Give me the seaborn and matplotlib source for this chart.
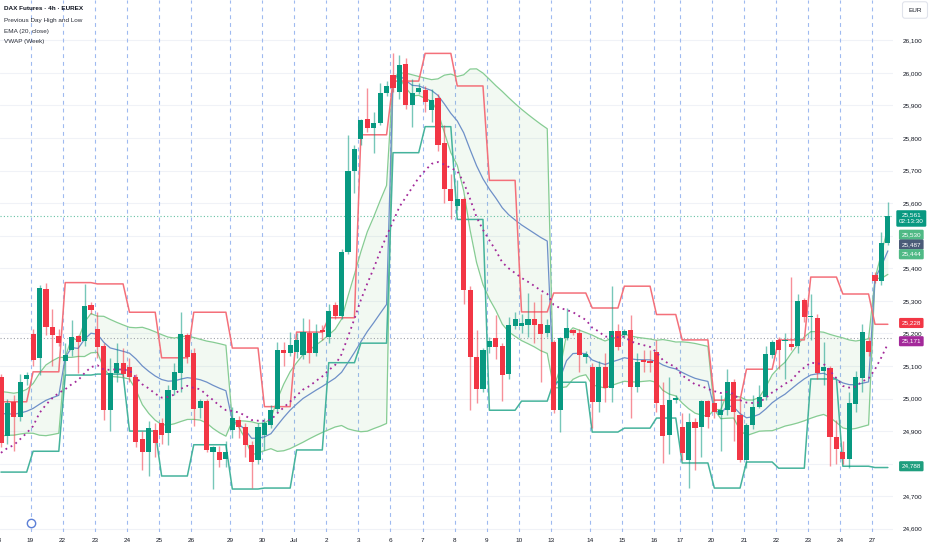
import numpy as np
import pandas as pd
import matplotlib
matplotlib.use("Agg")
import matplotlib.pyplot as plt
import matplotlib.transforms as mtransforms
import seaborn as sns

# ---- data: DAX futures, 4h bars ----
days = ["18", "19", "22", "23", "24", "25", "26", "29", "30", "Jul", "2", "3", "6", "7",
        "8", "9", "10", "13", "14", "15", "16", "17", "20", "21", "22", "23", "24", "27"]
bars_per_day = [5, 5, 5, 5, 5, 5, 6, 5, 5, 5, 5, 5, 5, 5, 5, 5, 5, 6, 5, 5, 4, 5, 5, 5, 5, 5, 5, 3]
week_of_day = [0, 0, 1, 1, 1, 1, 1, 2, 2, 2, 2, 2, 3, 3, 3, 3, 3, 4, 4, 4, 4, 4, 5, 5, 5, 5, 5, 6]

opens = [25066, 24885, 24990, 24943, 25061,
         25198, 25124, 25336, 25220, 25192,
         25116, 25149, 25192, 25177, 25287,
         25213, 25161, 24964, 25078, 25109,
         25097, 25066, 24875, 24835, 24903,
         24925, 24895, 25026, 25078, 25195,
         25140, 24970, 24992, 24835, 24835, 24814,
         24903, 24934, 24912, 24857, 24811,
         24888, 24918, 24968, 25149, 25140,
         25143, 25134, 25201, 25140, 25210,
         25190, 25287, 25254, 25450, 25700,
         25797, 25858, 25830, 25846, 25938,
         25994, 25942, 26027, 25902, 25940,
         25948, 25886, 25923, 25785, 25643,
         25590, 25613, 25333, 25127, 25029,
         25158, 25186, 25161, 25075, 25222,
         25223, 25226, 25244, 25229, 25201,
         25174, 24964, 25186, 25210, 25201, 25127,
         25097, 24989, 25097, 25033, 25207,
         25195, 25210, 25035, 25118, 25116,
         25143, 24980, 24888, 24995,
         24912, 24811, 24928, 24912, 24992,
         24986, 24950, 24964, 25050, 24950,
         24811, 24918, 24975, 25005, 25134,
         25180, 25176, 25168, 25161, 25302,
         25250, 25247, 25085, 25094, 24882,
         24835, 24814, 24983, 25063, 25177,
         25380, 25362, 25478]
highs = [25075, 25000, 25010, 25075, 25082,
         25215, 25350, 25356, 25275, 25215,
         25170, 25240, 25195, 25352, 25295,
         25265, 25170, 25125, 25170, 25155,
         25125, 25075, 24900, 24930, 24925,
         24940, 25040, 25110, 25265, 25200,
         25155, 25000, 25000, 24855, 24855, 24870,
         24975, 24945, 24925, 24870, 24925,
         24940, 24980, 25175, 25175, 25204,
         25200, 25248, 25245, 25230, 25225,
         25290, 25295, 25460, 25810, 25780,
         25860, 25955, 25880, 25970, 25975,
         26060, 26055, 26045, 25980, 25970,
         25960, 25950, 25935, 25840, 25690,
         25670, 25620, 25345, 25210, 25155,
         25190, 25255, 25170, 25250, 25266,
         25260, 25324, 25295, 25320, 25245,
         25180, 25190, 25278, 25215, 25215, 25145,
         25110, 25115, 25140, 25345, 25230,
         25215, 25258, 25140, 25150, 25150,
         25180, 25050, 25065, 25010,
         24955, 24955, 24940, 24995, 24995,
         25000, 25010, 25090, 25060, 25000,
         24925, 25010, 25040, 25160, 25180,
         25190, 25200, 25373, 25320, 25310,
         25321, 25260, 25175, 25100, 24935,
         24870, 25020, 25085, 25228, 25190,
         25390, 25510, 25605]
lows = [24850, 24860, 24838, 24930, 25040,
        25100, 25072, 25195, 25100, 25160,
        25075, 25130, 25078, 25160, 25260,
        25125, 24935, 24900, 25050, 25065,
        25050, 24850, 24780, 24762, 24820,
        24860, 24858, 25010, 25020, 25110,
        24915, 24940, 24835, 24722, 24790, 24790,
        24880, 24880, 24820, 24725, 24800,
        24842, 24910, 24960, 25100, 25130,
        25125, 25120, 25110, 25130, 25180,
        25170, 25245, 25245, 25445, 25630,
        25780, 25820, 25755, 25840, 25930,
        25940, 25920, 25890, 25835, 25935,
        25880, 25850, 25760, 25600, 25550,
        25580, 25290, 24964, 24986, 25020,
        25140, 25120, 24992, 25060, 25215,
        25200, 25189, 25170, 25050, 25190,
        24955, 24897, 25180, 25195, 25081, 25110,
        24909, 24960, 24990, 24990, 25150,
        25185, 24940, 25020, 25080, 25080,
        24960, 24802, 24830, 24985,
        24810, 24725, 24780, 24820, 24910,
        24940, 24840, 24950, 24870, 24805,
        24786, 24905, 24970, 24995, 25125,
        25090, 25060, 25150, 25140, 25235,
        25180, 25060, 25040, 24792, 24800,
        24800, 24788, 24960, 25020, 25130,
        25355, 25350, 25470]
closes = [24863, 24986, 24943, 25050, 25073,
          25118, 25339, 25220, 25195, 25170,
          25134, 25189, 25174, 25284, 25272,
          25158, 24964, 25078, 25109, 25075,
          25066, 24866, 24835, 24910, 24863,
          24888, 25026, 25081, 25198, 25127,
          24968, 24992, 24842, 24850, 24810, 24835,
          24940, 24912, 24857, 24805, 24912,
          24925, 24964, 25149, 25140, 25165,
          25180, 25204, 25140, 25201, 25204,
          25270, 25254, 25450, 25700, 25766,
          25855, 25830, 25846, 25938, 25960,
          25954, 26024, 25902, 25938, 25954,
          25911, 25917, 25778, 25643, 25607,
          25613, 25333, 25127, 25029, 25149,
          25177, 25158, 25072, 25226, 25244,
          25232, 25245, 25225, 25198, 25226,
          24964, 25186, 25216, 25201, 25134, 25137,
          24989, 25097, 25033, 25207, 25158,
          25207, 25035, 25112, 25112, 25110,
          24986, 24885, 24995, 25002,
          24832, 24928, 24910, 24992, 24943,
          24958, 24964, 25050, 24958, 24811,
          24918, 24974, 25005, 25137, 25174,
          25149, 25180, 25158, 25299, 25250,
          25253, 25078, 25097, 24882, 24845,
          24814, 24986, 25066, 25204, 25143,
          25362, 25478, 25561]

# state carried in from bars left of the visible window
prev_day_high0, prev_day_low0 = 24990, 24774
ema_seed = 24830
vwap_seed = (15, 24955, 70)  # bars, mean, stdev of the week so far

# right-axis badges: text, colour, layout price
badges = [("25,561\n02:13:30", "#089981", 25553),
          ("25,530", "#4fb985", 25503),
          ("25,487", "#4a5b78", 25473),
          ("25,444", "#4fb985", 25443),
          ("25,228", "#f23645", 25232),
          ("25,171", "#a3299a", 25176),
          ("24,788", "#1e9e7e", 24792)]
hidden_ticks = [24800, 25500]   # covered by badges in the original
last_price = 25561
prev_close_line = 25186

UP, DOWN = "#089981", "#f23645"
FS = 4.6

# ---- derived series ----
day_idx = np.repeat(np.arange(len(days)), bars_per_day)
df = pd.DataFrame({"open": opens, "high": highs, "low": lows, "close": closes})
df["x"] = np.arange(len(df))
df["day"] = day_idx
df["week"] = np.array(week_of_day)[day_idx]

daily = df.groupby("day").agg(hi=("high", "max"), lo=("low", "min"))
pdh = np.r_[prev_day_high0, daily["hi"].values[:-1]]
pdl = np.r_[prev_day_low0, daily["lo"].values[:-1]]
df["pdh"] = pdh[day_idx]
df["pdl"] = pdl[day_idx]

alpha = 2 / 21
ema, e = [], ema_seed
for c in closes:
    e = e + alpha * (c - e)
    ema.append(e)
df["ema"] = ema

# weekly VWAP with 1 stdev bands (equal weight per bar)
df["tp"] = (df["high"] + df["low"] + df["close"]) / 3
vw, sdv = [], []
for wk, g in df.groupby("week"):
    w0, m0, s0 = vwap_seed if wk == 0 else (0, 0.0, 0.0)
    cw = w0 + np.arange(1, len(g) + 1)
    c1 = w0 * m0 + g["tp"].cumsum().values
    c2 = w0 * (m0 ** 2 + s0 ** 2) + (g["tp"] ** 2).cumsum().values
    v = c1 / cw
    vw.extend(v)
    sdv.extend(np.sqrt(np.maximum(c2 / cw - v ** 2, 0)))
df["vwap"] = vw
df["vup"] = df["vwap"] + np.array(sdv)
df["vlo"] = df["vwap"] - np.array(sdv)

# ---- figure ----
sns.set_theme(style="white")
plt.rcParams["font.family"] = ["Liberation Sans", "DejaVu Sans"]
fig = plt.figure(figsize=(9.32, 5.5), dpi=100)
ax = fig.add_axes([0, 18 / 550, 893 / 932, 532 / 550])
for s in ax.spines.values():
    s.set_visible(False)

ax.set_ylim(24590, 26224)
ax.set_xlim(-0.15, 138.8)
yt = np.arange(24600, 26101, 100)
ax.set_yticks(yt)
ax.set_yticklabels(["" if v in hidden_ticks else f"{v:,}" for v in yt])
ax.yaxis.tick_right()
for v in yt:
    ax.axhline(v, color="#f0f2f7", lw=0.8, zorder=0)

starts = np.r_[0, np.cumsum(bars_per_day)[:-1]] - 0.4
for s in starts[1:]:
    ax.axvline(s, color="#9fbaf0", lw=0.8, ls=(0, (3.5, 3.5)), zorder=0.5)
ax.set_xticks(starts[1:])
ax.set_xticklabels(days[1:])
ax.text(starts[0], -0.011, days[0], transform=mtransforms.blended_transform_factory(ax.transData, ax.transAxes),
        ha="center", va="top", fontsize=FS, color="#131722", clip_on=False)
ax.tick_params(axis="both", length=0, labelsize=FS, labelcolor="#131722")
ax.tick_params(axis="x", pad=4.5)
ax.tick_params(axis="y", pad=7)

# VWAP and bands
ax.fill_between(df["x"], df["vlo"], df["vup"], color="#4caf50", alpha=0.07, lw=0, zorder=1)
sns.lineplot(data=df, x="x", y="vup", ax=ax, color="#86cc93", lw=0.9, estimator=None, sort=False, zorder=2)
sns.lineplot(data=df, x="x", y="vlo", ax=ax, color="#86cc93", lw=0.9, estimator=None, sort=False, zorder=2)
sns.lineplot(data=df, x="x", y="vwap", ax=ax, color="#6e90c8", lw=0.9, estimator=None, sort=False, zorder=2)

# previous day high / low
sns.lineplot(data=df, x="x", y="pdh", ax=ax, color="#f4707a", lw=1.1, estimator=None, sort=False, zorder=2)
sns.lineplot(data=df, x="x", y="pdl", ax=ax, color="#45b39c", lw=1.1, estimator=None, sort=False, zorder=2)

ax.axhline(prev_close_line, color="#a0a3ab", lw=0.8, ls=(0, (1, 2)), zorder=1)
ax.axhline(last_price, color="#66c2a5", lw=0.8, ls=(0, (1, 2)), zorder=1)

# candles
up = df["close"] >= df["open"]
cols = np.where(up, UP, DOWN)
ax.vlines(df["x"], df["low"], df["high"], colors=cols, lw=1, alpha=0.55, zorder=3)
body_lo = np.minimum(df["open"], df["close"])
body_h = np.maximum((df["close"] - df["open"]).abs(), 4)
ax.bar(df["x"], body_h, bottom=body_lo, width=0.8, color=cols, lw=0, zorder=4)

# EMA 20 close
sns.lineplot(data=df, x="x", y="ema", ax=ax, color="#a3299a", lw=1.3, ls=(0, (1, 2.2)),
             estimator=None, sort=False, zorder=5)
ax.set_xlabel("")
ax.set_ylabel("")

# right axis badges
bt = mtransforms.blended_transform_factory(ax.transAxes, ax.transData)
for txt, col, yv in badges:
    ax.text(1.0205, yv, txt, transform=bt, ha="center", va="center", fontsize=FS, color="white",
            linespacing=1.35, clip_on=False, zorder=10,
            bbox=dict(boxstyle="round,pad=0.4,rounding_size=0.2", fc=col, ec="none"))

fig.text(915 / 932, 1 - 10 / 550, "EUR", ha="center", va="center", fontsize=FS, color="#131722",
         bbox=dict(boxstyle="round,pad=0.9,rounding_size=0.4", fc="white", ec="#e0e3eb", lw=0.8))

# event marker near the bottom
ax.plot(starts[1], 24617, "o", ms=6, mfc="white", mec="#5b7fd6", mew=1, zorder=6, clip_on=False)

# legend lines top-left
fig.text(4 / 932, 1 - 9 / 550, "DAX Futures · 4h · EUREX", fontsize=FS, color="#131722",
         fontweight="bold", va="center")
for i, t in enumerate(["Previous Day High and Low", "EMA (20, close)", "VWAP (Week)"]):
    fig.text(4 / 932, 1 - (20.5 + 10.7 * i) / 550, t, fontsize=FS, color="#2a2e39", va="center")

fig.savefig("out.png", dpi=100, facecolor="white")
